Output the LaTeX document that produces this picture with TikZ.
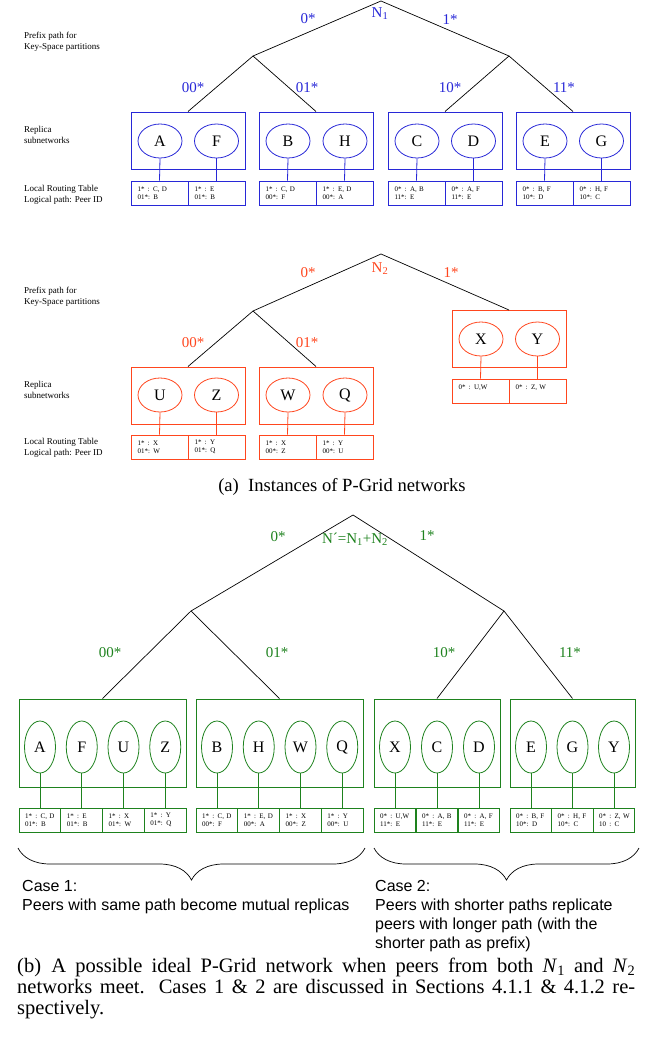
\documentclass[tikz,border=0pt]{standalone}
\usepackage{fontspec}
\setmainfont{Liberation Serif}
\setsansfont{Liberation Sans}
\usetikzlibrary{shapes.geometric,decorations.pathreplacing}
\definecolor{pblue}{RGB}{40,40,215}
\definecolor{pred}{RGB}{255,70,30}
\definecolor{pgreen}{RGB}{30,130,30}
\newcommand\rtab[2]{\mbox{#1}\\\mbox{#2}}
\newcommand\cs{\hspace{0.45em}}
\begin{document}
\begin{tikzpicture}[x=1pt,y=-1pt,
 treeline/.style={draw=black,line width=0.7pt},
 grpbox/.style={draw=#1,line width=1pt,minimum width=114pt,minimum height=57pt,inner sep=0pt},
 peernode/.style={ellipse,draw=#1,line width=0.8pt,minimum width=44pt,minimum height=34pt,inner sep=0pt,text=black,font=\fontsize{16pt}{18pt}\selectfont},
 vpeer/.style={peernode=#1,minimum width=31pt,minimum height=52pt},
 rtcell/.style={draw=#1,line width=0.8pt,minimum width=57pt,minimum height=24pt,inner ysep=0pt,inner xsep=6.5pt,text width=44pt,align=left,font=\fontsize{7pt}{8pt}\selectfont},
 brtcell/.style={rtcell=#1,minimum width=41.75pt,inner xsep=6pt,text width=29.75pt},
 wireline/.style={draw=#1,line width=0.8pt},
 edgelab/.style={text=#1,inner sep=0pt,font=\fontsize{15pt}{17pt}\selectfont},
 sidelab/.style={align=left,anchor=west,inner sep=0pt,font=\fontsize{9pt}{11pt}\selectfont},
 casetxt/.style={align=left,anchor=north west,inner sep=0pt,font=\sffamily\fontsize{16pt}{19pt}\selectfont},
]
\useasboundingbox (0,0) rectangle (651,1044);

%% ---------------- (a) N1 ----------------
\coordinate (r1) at (381,1);
\coordinate (l1) at (253,56);
\coordinate (rr1) at (509,56);
\node[grpbox=pblue] (g1a) at (188,140.5) {};
\node[grpbox=pblue] (g1b) at (316,140.5) {};
\node[grpbox=pblue] (g1c) at (445,140.5) {};
\node[grpbox=pblue] (g1d) at (573,140.5) {};
\draw[treeline] (l1) -- (r1) -- (rr1);
\draw[treeline] (g1a.north) -- (l1) -- (g1b.north);
\draw[treeline] (g1c.north) -- (rr1) -- (g1d.north);

\node[peernode=pblue] (pA1) at (160,141) {A};
\node[peernode=pblue] (pF1) at (216.5,141) {F};
\node[peernode=pblue] (pB1) at (288,141) {B};
\node[peernode=pblue] (pH1) at (345,141) {H};
\node[peernode=pblue] (pC1) at (417,141) {C};
\node[peernode=pblue] (pD1) at (473.5,141) {D};
\node[peernode=pblue] (pE1) at (545,141) {E};
\node[peernode=pblue] (pG1) at (601.5,141) {G};

\node[rtcell=pblue] (tA1) at (159.5,193) {\rtab{1*\cs: C, D}{01*: B}};
\node[rtcell=pblue] (tF1) at (216.5,193) {\rtab{1*\cs: E}{01*: B}};
\node[rtcell=pblue] (tB1) at (287.5,193) {\rtab{1*\cs: C, D}{00*: F}};
\node[rtcell=pblue] (tH1) at (344.5,193) {\rtab{1*\cs: E, D}{00*: A}};
\node[rtcell=pblue] (tC1) at (416.5,193) {\rtab{0*\cs: A, B}{11*: E}};
\node[rtcell=pblue] (tD1) at (473.5,193) {\rtab{0*\cs: A, F}{11*: E}};
\node[rtcell=pblue] (tE1) at (544.5,193) {\rtab{0*\cs: B, F}{10*: D}};
\node[rtcell=pblue] (tG1) at (601.5,193) {\rtab{0*\cs: H, F}{10*: C}};
\foreach \p in {A,F,B,H,C,D,E,G}{\draw[wireline=pblue] (p\p1.south) -- (t\p1.north);}

\node[edgelab=pblue] (n1) at (380,14) {N\textsubscript{1}};
\node[edgelab=pblue] (e1z) at (308,19) {0*};
\node[edgelab=pblue] (e1o) at (450,20) {1*};
\node[edgelab=pblue] (e1zz) at (193,88) {00*};
\node[edgelab=pblue] (e1zo) at (307,88) {01*};
\node[edgelab=pblue] (e1oz) at (450,88) {10*};
\node[edgelab=pblue] (e1oo) at (564,88) {11*};

\node[sidelab] (s1a) at (24,41.5) {Prefix path for\\Key-Space partitions};
\node[sidelab] (s1b) at (24,134.5) {Replica\\subnetworks};
\node[sidelab] (s1c) at (24,194.5) {Local Routing Table\\Logical path: Peer ID};

%% ---------------- (a) N2 ----------------
\coordinate (r2) at (381,254);
\coordinate (l2) at (253,311);
\node[grpbox=pred] (g2a) at (188,395.5) {};
\node[grpbox=pred] (g2b) at (316,395.5) {};
\node[grpbox=pred] (g2c) at (509,339) {};
\draw[treeline] (l2) -- (r2) -- (g2c.north);
\draw[treeline] (g2a.north) -- (l2) -- (g2b.north);

\node[peernode=pred] (pU2) at (160,395) {U};
\node[peernode=pred] (pZ2) at (216.5,395) {Z};
\node[peernode=pred] (pW2) at (288,395) {W};
\node[peernode=pred] (pQ2) at (345,395) {Q};
\node[peernode=pred] (pX2) at (481,339) {X};
\node[peernode=pred] (pY2) at (537.5,339) {Y};

\node[rtcell=pred] (tU2) at (159.5,447) {\rtab{1*\cs: X}{01*: W}};
\node[rtcell=pred] (tZ2) at (216.5,447) {\rtab{1*\cs: Y}{01*: Q}};
\node[rtcell=pred] (tW2) at (287.5,447) {\rtab{1*\cs: X}{00*: Z}};
\node[rtcell=pred] (tQ2) at (344.5,447) {\rtab{1*\cs: Y}{00*: U}};
\node[rtcell=pred] (tX2) at (480.5,391) {\rtab{0*\cs: U,W}{}};
\node[rtcell=pred] (tY2) at (537.5,391) {\rtab{0*\cs: Z, W}{}};
\foreach \p in {U,Z,W,Q,X,Y}{\draw[wireline=pred] (p\p2.south) -- (t\p2.north);}

\node[edgelab=pred] (n2) at (380,269) {N\textsubscript{2}};
\node[edgelab=pred] (e2z) at (308,273) {0*};
\node[edgelab=pred] (e2o) at (451,273) {1*};
\node[edgelab=pred] (e2zz) at (193,343) {00*};
\node[edgelab=pred] (e2zo) at (307,343) {01*};

\node[sidelab] (s2a) at (24,296.5) {Prefix path for\\Key-Space partitions};
\node[sidelab] (s2b) at (24,389.5) {Replica\\subnetworks};
\node[sidelab] (s2c) at (24,448) {Local Routing Table\\Logical path: Peer ID};

\node[inner sep=0pt,font=\fontsize{18.6pt}{21pt}\selectfont] (capa) at (342,487) {(a)\enspace Instances of P-Grid networks};

%% ---------------- (b) merged ----------------
\coordinate (r3) at (353,515);
\coordinate (l3) at (191,611);
\coordinate (rr3) at (504,611);
\node[grpbox=pgreen,minimum width=167pt,minimum height=88pt] (g3a) at (102.5,743) {};
\node[grpbox=pgreen,minimum width=167pt,minimum height=88pt] (g3b) at (279.5,743) {};
\node[grpbox=pgreen,minimum width=126pt,minimum height=88pt] (g3c) at (437,743) {};
\node[grpbox=pgreen,minimum width=125pt,minimum height=88pt] (g3d) at (572.5,743) {};
\draw[treeline] (l3) -- (r3) -- (rr3);
\draw[treeline] (g3a.north) -- (l3) -- (g3b.north);
\draw[treeline] (g3c.north) -- (rr3) -- (g3d.north);

\node[vpeer=pgreen] (pA3) at (40,747) {A};
\node[vpeer=pgreen] (pF3) at (81.75,747) {F};
\node[vpeer=pgreen] (pU3) at (123.5,747) {U};
\node[vpeer=pgreen] (pZ3) at (165.25,747) {Z};
\node[vpeer=pgreen] (pB3) at (217,747) {B};
\node[vpeer=pgreen] (pH3) at (258.75,747) {H};
\node[vpeer=pgreen] (pW3) at (300.5,747) {W};
\node[vpeer=pgreen] (pQ3) at (342.25,747) {Q};
\node[vpeer=pgreen] (pX3) at (395,747) {X};
\node[vpeer=pgreen] (pC3) at (437,747) {C};
\node[vpeer=pgreen] (pD3) at (479,747) {D};
\node[vpeer=pgreen] (pE3) at (531,747) {E};
\node[vpeer=pgreen] (pG3) at (572.5,747) {G};
\node[vpeer=pgreen] (pY3) at (614,747) {Y};

\node[brtcell=pgreen] (tA3) at (40,820) {\rtab{1*\cs: C, D}{01*: B}};
\node[brtcell=pgreen] (tF3) at (81.75,820) {\rtab{1*\cs: E}{01*: B}};
\node[brtcell=pgreen] (tU3) at (123.5,820) {\rtab{1*\cs: X}{01*: W}};
\node[brtcell=pgreen] (tZ3) at (165.25,820) {\rtab{1*\cs: Y}{01*: Q}};
\node[brtcell=pgreen] (tB3) at (217,820) {\rtab{1*\cs: C, D}{00*: F}};
\node[brtcell=pgreen] (tH3) at (258.75,820) {\rtab{1*\cs: E, D}{00*: A}};
\node[brtcell=pgreen] (tW3) at (300.5,820) {\rtab{1*\cs: X}{00*: Z}};
\node[brtcell=pgreen] (tQ3) at (342.25,820) {\rtab{1*\cs: Y}{00*: U}};
\node[brtcell=pgreen] (tX3) at (395,820) {\rtab{0*\cs: U,W}{11*: E}};
\node[brtcell=pgreen] (tC3) at (437,820) {\rtab{0*\cs: A, B}{11*: E}};
\node[brtcell=pgreen] (tD3) at (479,820) {\rtab{0*\cs: A, F}{11*: E}};
\node[brtcell=pgreen] (tE3) at (531,820) {\rtab{0*\cs: B, F}{10*: D}};
\node[brtcell=pgreen] (tG3) at (572.5,820) {\rtab{0*\cs: H, F}{10*: C}};
\node[brtcell=pgreen] (tY3) at (614,820) {\rtab{0*\cs: Z, W}{10\cs: C}};
\foreach \p in {A,F,U,Z,B,H,W,Q,X,C,D,E,G,Y}{\draw[wireline=pgreen] (p\p3.south) -- (t\p3.north);}

\node[edgelab=pgreen] (n3) at (355,539) {N´=N\textsubscript{1}+N\textsubscript{2}};
\node[edgelab=pgreen] (e3z) at (278,537) {0*};
\node[edgelab=pgreen] (e3o) at (427,536) {1*};
\node[edgelab=pgreen] (e3zz) at (110,653) {00*};
\node[edgelab=pgreen] (e3zo) at (277,653) {01*};
\node[edgelab=pgreen] (e3oz) at (444,653) {10*};
\node[edgelab=pgreen] (e3oo) at (570,653) {11*};

\coordinate (b1s) at (18,848);
\coordinate (b1e) at (365,848);
\coordinate (b2s) at (374,848);
\coordinate (b2e) at (639,848);
\draw[line width=0.7pt,decorate,decoration={brace,mirror,amplitude=32pt}] (b1s) -- (b1e);
\draw[line width=0.7pt,decorate,decoration={brace,mirror,amplitude=32pt}] (b2s) -- (b2e);

\node[casetxt] (case1) at (22,880) {Case 1:\\Peers with same path become mutual replicas};
\node[casetxt] (case2) at (375,880) {Case 2:\\Peers with shorter paths replicate\\peers with longer path (with the\\shorter path as prefix)};

\node[anchor=north west,inner sep=0pt,text width=618pt,align=justify,font=\fontsize{20.5pt}{21pt}\selectfont] (capb) at (17,958) {(b)\enspace A possible ideal P-Grid network when peers from both \textit{N}\textsubscript{1} and \textit{N}\textsubscript{2}\linebreak networks meet. Cases 1 \& 2 are discussed in Sections 4.1.1 \& 4.1.2 re-\linebreak spectively.};
\end{tikzpicture}
\end{document}
